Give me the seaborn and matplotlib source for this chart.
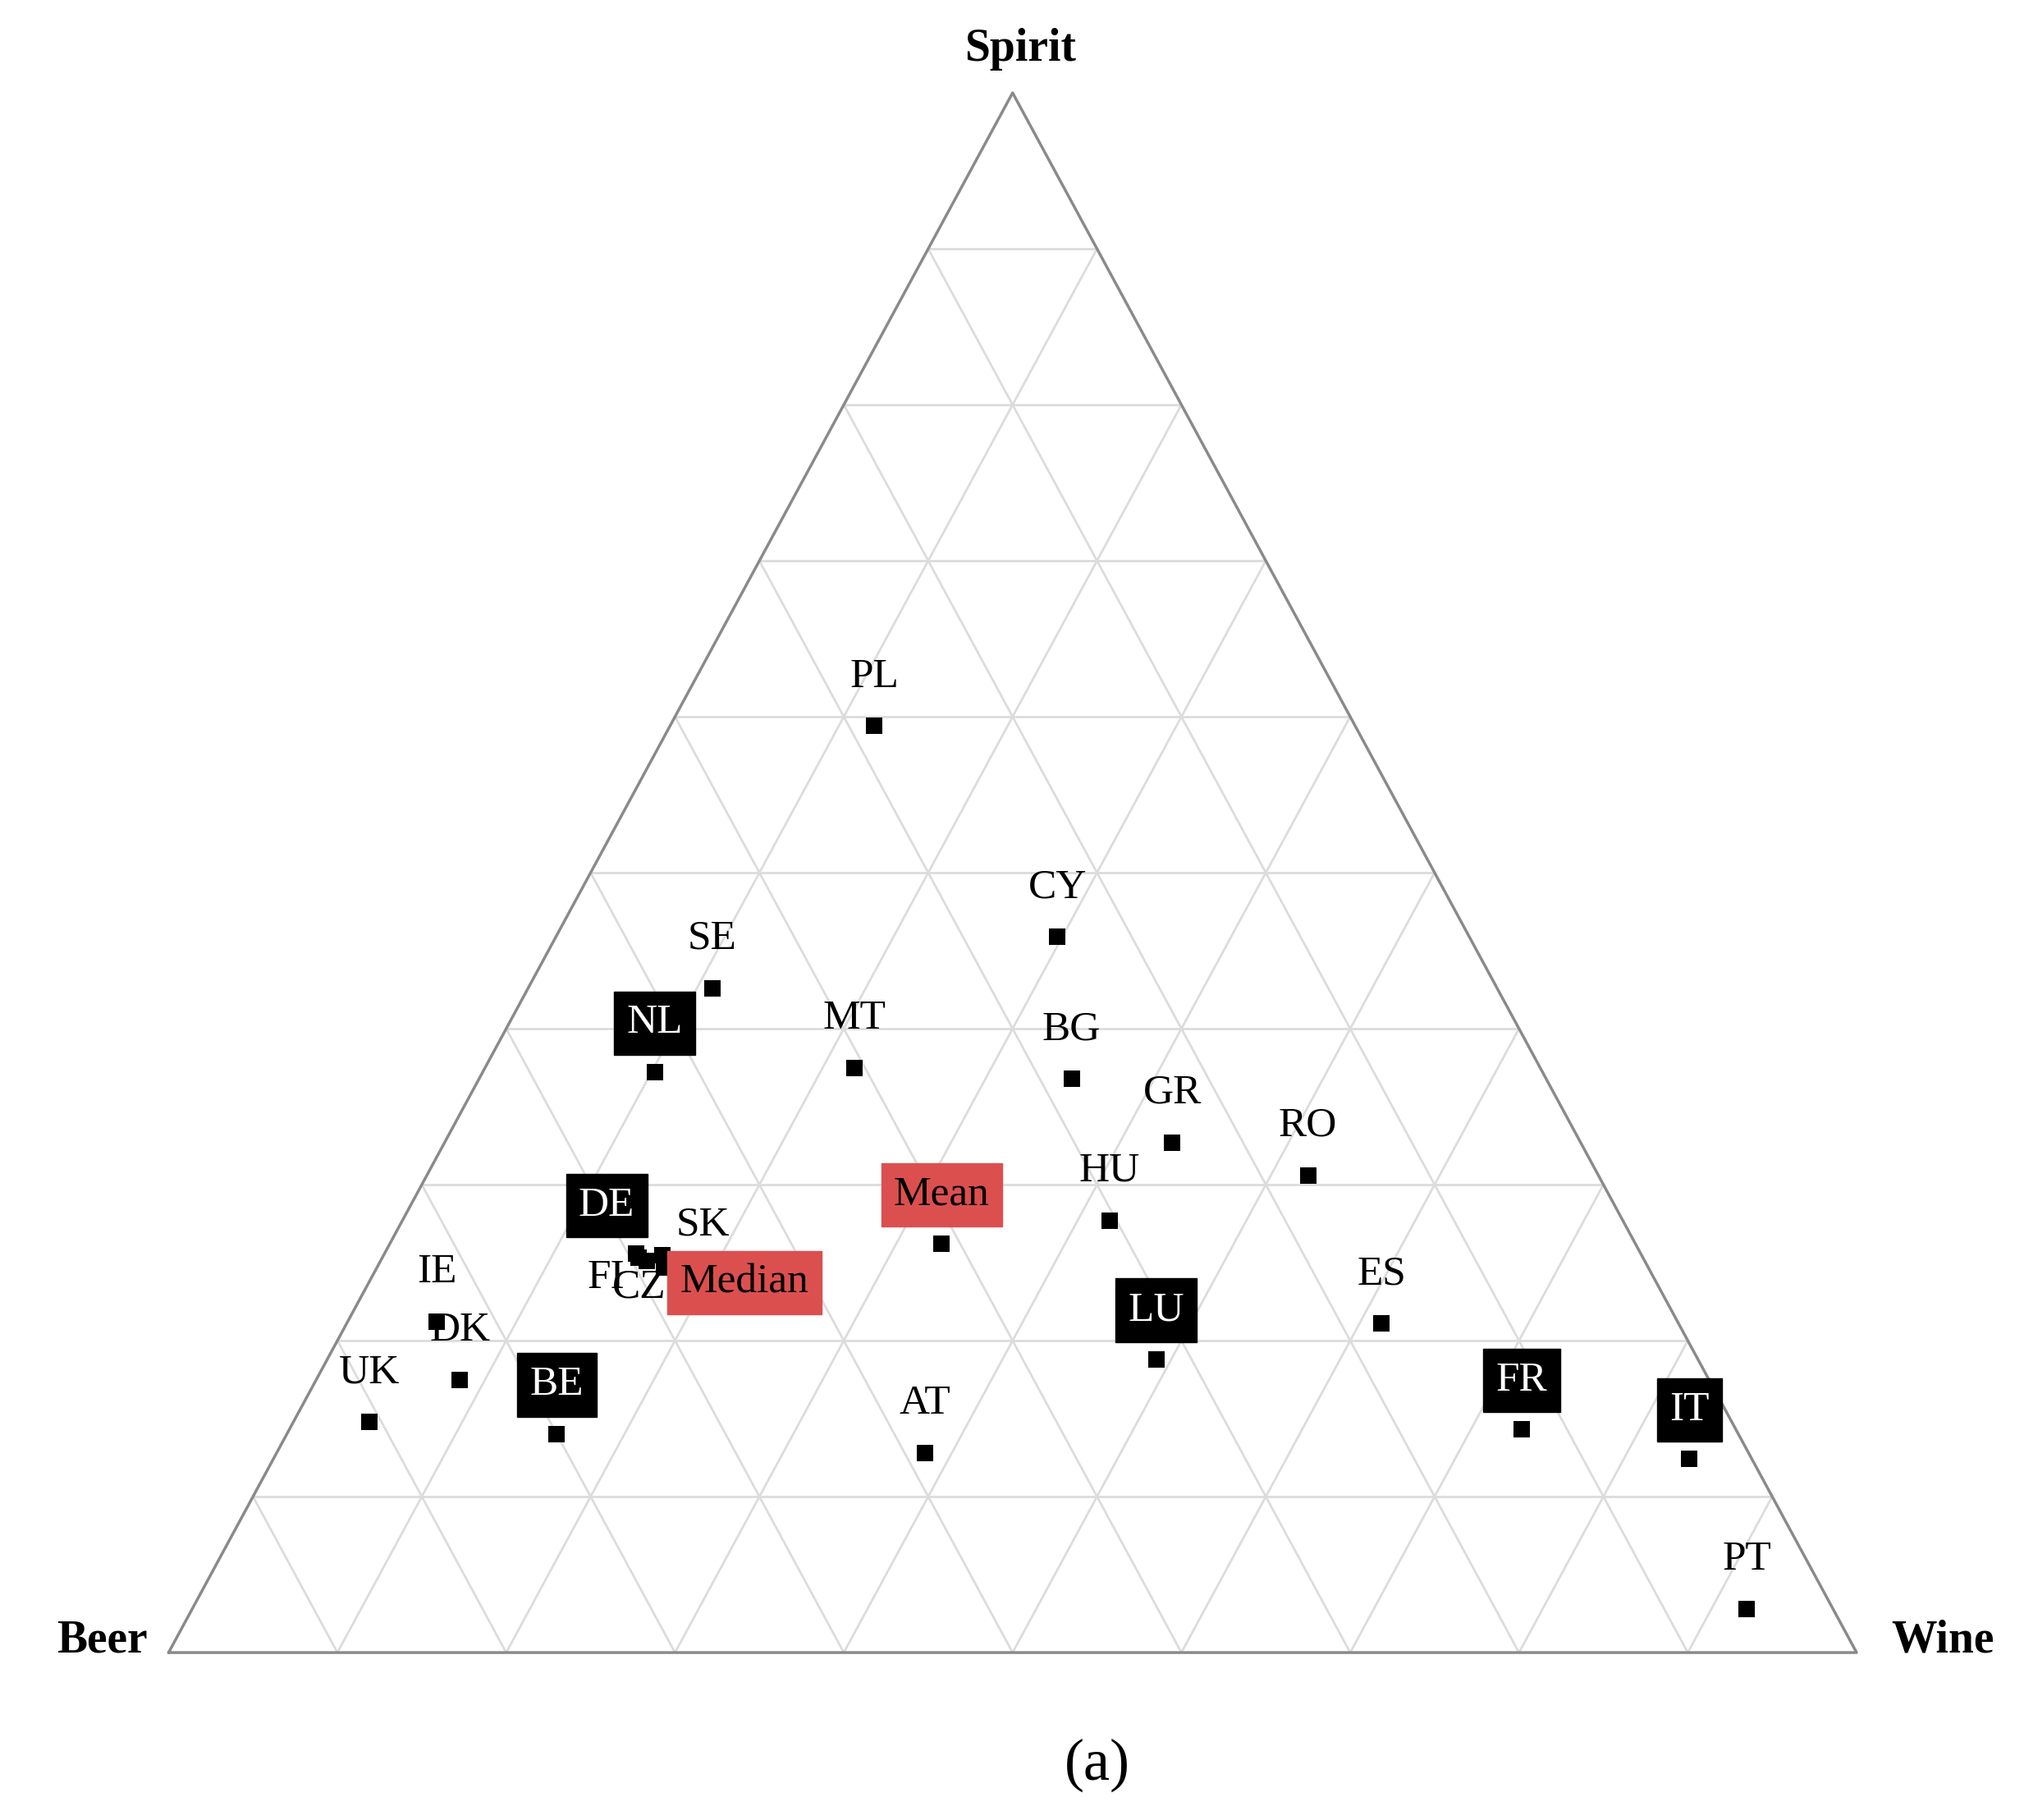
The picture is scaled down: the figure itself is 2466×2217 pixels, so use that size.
import matplotlib
matplotlib.use("Agg")
import matplotlib.pyplot as plt
import seaborn as sns
import pandas as pd
import numpy as np

sns.set_style("white")
plt.rcParams['font.family'] = ['Liberation Serif', 'DejaVu Serif']

labels = ["PL","CY","SE","NL","MT","BG","GR","RO","HU","Mean","DE","FI","CZ","SK","Median",
          "ES","LU","IE","DK","UK","BE","AT","FR","IT","PT"]
spirit = [0.594,0.459,0.426,0.372,0.375,0.368,0.327,0.306,0.277,0.262,0.256,0.253,0.251,0.255,0.247,
          0.211,0.188,0.212,0.175,0.148,0.140,0.128,0.143,0.124,0.028]
wine = [0.121,0.297,0.109,0.102,0.219,0.351,0.431,0.522,0.419,0.327,0.149,0.152,0.158,0.165,0.170,
        0.613,0.491,0.053,0.085,0.045,0.160,0.384,0.730,0.839,0.921]
beer = [1 - s - w for s, w in zip(spirit, wine)]
black_boxed = ["NL","DE","BE","LU","FR","IT"]
red_boxed = ["Mean","Median"]

df = pd.DataFrame({"label": labels, "Spirit": spirit, "Wine": wine, "Beer": beer})
df["x"] = df["Wine"] + df["Spirit"] / 2
df["y"] = df["Spirit"]

fig = plt.figure(figsize=(24.66, 22.17), dpi=100)
ax = fig.add_axes([0.0833, 0.092, 0.834, 0.857])
ax.set_xlim(0, 1); ax.set_ylim(0, 1)
ax.axis("off")

grid_c = "#dcdcdc"
for i in range(1, 10):
    k = i / 10
    ax.plot([k/2, 1-k/2], [k, k], color=grid_c, lw=2, zorder=1)
    ax.plot([k, k+(1-k)/2], [0, 1-k], color=grid_c, lw=2, zorder=1)
    ax.plot([1-k, (1-k)/2], [0, 1-k], color=grid_c, lw=2, zorder=1)
ax.plot([0, 1, 0.5, 0], [0, 0, 1, 0], color="#8a8a8a", lw=2.5, zorder=2, clip_on=False)

sns.scatterplot(data=df, x="x", y="y", marker="s", s=200, color="black",
                edgecolor="black", linewidth=0, ax=ax, zorder=3, legend=False, clip_on=False)
ax.set_xlim(0, 1); ax.set_ylim(0, 1)

special = {"DE": (-36, 58), "FI": (-40, -24), "CZ": (-10, -32), "SK": (49, 36),
           "Median": (98, -19)}
for _, r in df.iterrows():
    dx, dy = special.get(r["label"], (0, 60))
    kw = dict(fontsize=37, ha="center", va="center", color="black", zorder=4)
    if r["label"] in black_boxed:
        kw.update(color="white", bbox=dict(boxstyle="square,pad=0.3", fc="black", ec="black"))
    elif r["label"] in red_boxed:
        kw.update(bbox=dict(boxstyle="square,pad=0.3", fc="#dc4f4f", ec="#dc4f4f"))
    ax.annotate(r["label"], (r["x"], r["y"]), xytext=(dx, dy), textcoords="offset pixels", **kw)

fig.text(0.0506, 0.0985, "Beer", fontsize=40, fontweight="bold", ha="center", va="center", color="black")
fig.text(0.960, 0.0985, "Wine", fontsize=40, fontweight="bold", ha="center", va="center", color="black")
fig.text(0.504, 0.973, "Spirit", fontsize=40, fontweight="bold", ha="center", va="center", color="black")
fig.text(0.542, 0.030, "(a)", fontsize=52, ha="center", va="center", color="black")

fig.savefig("out.png", dpi=100)
